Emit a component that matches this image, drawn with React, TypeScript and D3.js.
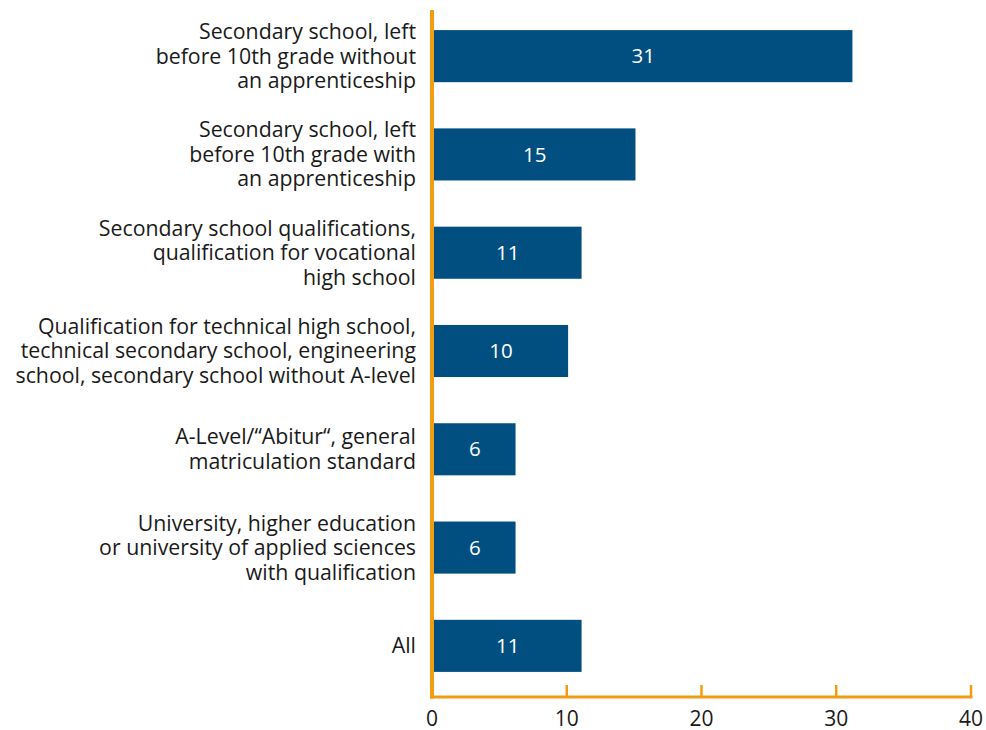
import React, { useEffect, useRef } from 'react';
import * as d3 from 'd3';

const categories = [
  ['Secondary school, left', 'before 10th grade without', 'an apprenticeship'],
  ['Secondary school, left', 'before 10th grade with', 'an apprenticeship'],
  ['Secondary school qualifications,', 'qualification for vocational', 'high school'],
  ['Qualification for technical high school,', 'technical secondary school, engineering', 'school, secondary school without A-level'],
  ['A-Level/\u201cAbitur\u201c, general', 'matriculation standard'],
  ['University, higher education', 'or university of applied sciences', 'with qualification'],
  ['All'],
];
const values = [31.2, 15.1, 11.1, 10.1, 6.2, 6.2, 11.1];
const valueLabels = ['31', '15', '11', '10', '6', '6', '11'];
const xTicks = [0, 10, 20, 30, 40];

const W = 986;
const H = 730;
const ORANGE = '#f39c12';
const BLUE = '#004f80';
const FONT = '"Open Sans", "Noto Sans", sans-serif';

export default function App() {
  const ref = useRef<SVGSVGElement>(null);

  useEffect(() => {
    const svg = d3.select(ref.current);
    svg.selectAll('*').remove();

    const x = d3.scaleLinear().domain([0, 40]).range([432, 971]);
    const y = d3.scaleBand<number>()
      .domain(d3.range(categories.length))
      .range([7, 695])
      .paddingInner(0.47)
      .paddingOuter(0.235);

    // bars
    const g = svg.append('g');
    g.selectAll('rect')
      .data(values)
      .enter()
      .append('rect')
      .attr('x', x(0) + 2)
      .attr('y', (d, i) => y(i)!)
      .attr('width', d => x(d) - x(0) - 2)
      .attr('height', y.bandwidth())
      .attr('fill', BLUE);

    g.selectAll('text.val')
      .data(values)
      .enter()
      .append('text')
      .attr('class', 'val')
      .attr('x', d => (x(0) + 2 + x(d)) / 2)
      .attr('y', (d, i) => y(i)! + y.bandwidth() / 2)
      .attr('dy', '0.35em')
      .attr('text-anchor', 'middle')
      .attr('fill', 'white')
      .attr('font-family', FONT)
      .attr('font-size', 20.5)
      .text((d, i) => valueLabels[i]);

    // category labels
    const lh = 24.5;
    categories.forEach((lines, i) => {
      const cy = y(i)! + y.bandwidth() / 2;
      const t = svg.append('text')
        .attr('text-anchor', 'end')
        .attr('font-family', FONT)
        .attr('font-size', 21.3)
        .attr('fill', '#1a1a1a');
      lines.forEach((line, j) => {
        t.append('tspan')
          .attr('x', 416)
          .attr('y', cy + (j - (lines.length - 1) / 2) * lh)
          .attr('dy', '0.35em')
          .text(line);
      });
    });

    // axes
    const axisY = 697;
    svg.append('line')
      .attr('x1', x(0)).attr('x2', x(0))
      .attr('y1', 10).attr('y2', axisY + 1.5)
      .attr('stroke', ORANGE).attr('stroke-width', 4);
    svg.append('line')
      .attr('x1', x(0) - 2).attr('x2', x(40) + 1.5)
      .attr('y1', axisY).attr('y2', axisY)
      .attr('stroke', ORANGE).attr('stroke-width', 3);

    svg.selectAll('line.tick')
      .data(xTicks.slice(1))
      .enter()
      .append('line')
      .attr('class', 'tick')
      .attr('x1', d => x(d)).attr('x2', d => x(d))
      .attr('y1', axisY - 12).attr('y2', axisY)
      .attr('stroke', ORANGE).attr('stroke-width', 2.5);

    svg.selectAll('text.tick')
      .data(xTicks)
      .enter()
      .append('text')
      .attr('class', 'tick')
      .attr('x', d => x(d))
      .attr('y', 719)
      .attr('dy', '0.35em')
      .attr('text-anchor', 'middle')
      .attr('font-family', FONT)
      .attr('font-size', 21)
      .attr('fill', '#1a1a1a')
      .text(d => d);
  }, []);

  return (
    <svg
      ref={ref}
      width={W}
      height={H}
      style={{ position: 'absolute', top: 0, left: 0, background: 'white' }}
    />
  );
}
